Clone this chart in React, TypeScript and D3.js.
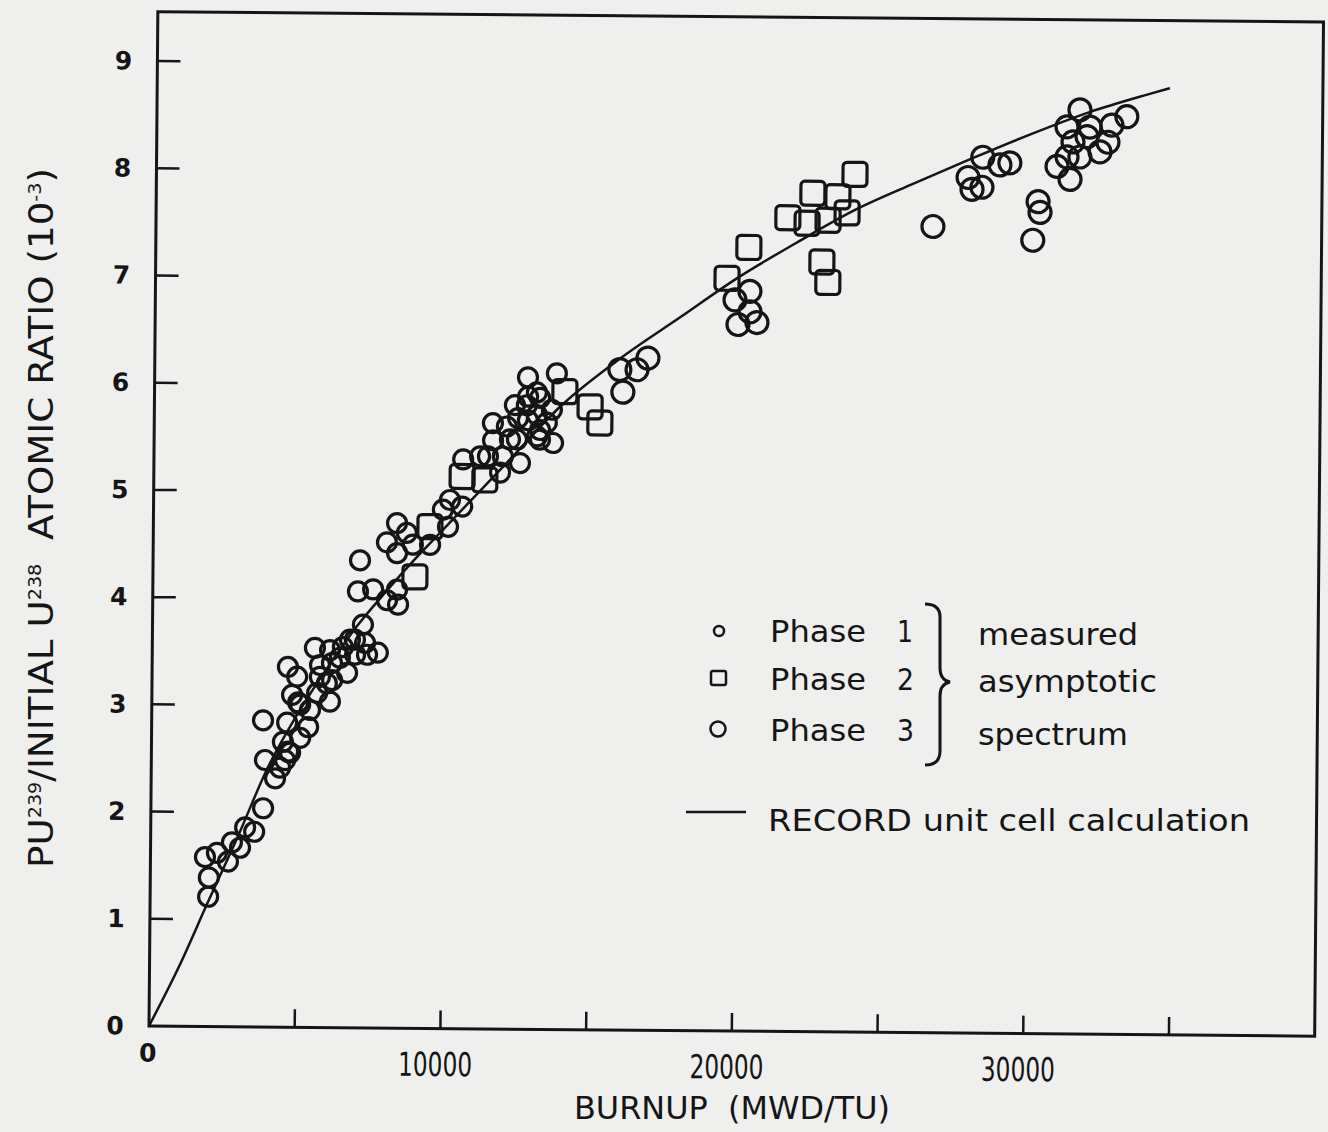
import * as d3 from "d3";
import React from "react";

// Phase 1 (small circles) - burnup in MWD/TU, ratio in 1e-3
const phase1Burnup = [
  1990, 2010, 1870, 2280, 2660, 2790, 3070, 3240, 3550, 3850, 3900, 4250, 4420, 4590, 4690, 4510,
  3820, 4760, 4650, 5370, 5020, 4810, 5670, 6110, 4660, 4980, 5580, 5760, 5760, 6000, 6100, 6440,
  6690, 6540, 6950, 6960, 7300, 7370, 7740, 7220, 7040, 7560, 8040, 8380, 8420, 7100, 8370, 8020,
  8910, 8360, 8700, 9500, 10110, 6780, 6170, 6180, 5090, 5430, 5100,
  9930, 10590, 10170, 10610, 11460, 11970, 11880, 12560, 11630, 11620, 12210, 12100, 12450, 12480,
  12370, 12780, 12810, 13240, 13240, 13690, 13470, 13130, 13640, 13120, 12820, 13800, 13230, 12820,
  13140, 11190
];
const phase1Ratio = [
  1.21, 1.39, 1.58, 1.62, 1.54, 1.72, 1.67, 1.86, 1.82, 2.04, 2.49, 2.32, 2.42, 2.49, 2.57, 2.66,
  2.86, 2.56, 2.84, 2.80, 3.03, 3.10, 3.12, 3.04, 3.36, 3.27, 3.54, 3.38, 3.27, 3.21, 3.52, 3.45,
  3.31, 3.55, 3.62, 3.48, 3.59, 3.48, 3.50, 3.76, 4.07, 4.09, 3.99, 4.09, 3.95, 4.36, 4.43, 4.53,
  4.51, 4.71, 4.62, 4.51, 4.68, 3.62, 3.40, 3.24, 3.01, 2.96, 2.70,
  4.84, 4.87, 4.93, 5.31, 5.34, 5.34, 5.19, 5.28, 5.49, 5.65, 5.50, 5.62, 5.50, 5.70,
  5.82, 5.82, 6.08, 5.59, 5.50, 5.47, 5.66, 5.73, 5.78, 5.94, 5.90, 6.12, 5.89, 5.68,
  5.53, 5.34
];

// Phase 2 (squares)
const phase2Burnup = [
  8990, 9490, 10580, 11360, 14080, 14950, 15290, 19610, 20350, 21680, 22530, 22340, 23060, 23390,
  23970, 23710, 22860, 23070
];
const phase2Ratio = [
  4.21, 4.68, 5.15, 5.12, 5.95, 5.81, 5.66, 7.02, 7.31, 7.59, 7.82, 7.54, 7.57, 7.79,
  8.00, 7.64, 7.18, 6.99
];

// Phase 3 (large circles)
const phase3Burnup = [
  16070, 15960, 16550, 16920, 19890, 20400, 20410, 20000, 20650, 26660, 27850, 27990, 28330, 28350,
  28940, 29280, 30260, 30330, 30090, 31230, 31670, 31240, 31440, 30900, 31350, 31680, 32020, 32370,
  32640, 32770, 33280, 31920
];
const phase3Ratio = [
  5.95, 6.16, 6.16, 6.27, 6.82, 6.90, 6.71, 6.59, 6.61, 7.52, 7.98, 7.87, 7.89, 8.17,
  8.10, 8.12, 7.76, 7.66, 7.40, 8.46, 8.62, 8.18, 8.32, 8.09, 7.97, 8.18, 8.46, 8.23,
  8.32, 8.48, 8.56, 8.37
];

// RECORD unit cell calculation
const calcBurnup = [
  0, 1000, 2000, 3000, 4000, 5000, 6000, 7000, 8000, 9000, 10000, 12000, 14000, 16000, 18000,
  20000, 22000, 24000, 26000, 28000, 30000, 32000, 34000, 34750
];
const calcRatio = [
  0, 0.55, 1.17, 1.78, 2.42, 2.92, 3.35, 3.74, 4.07, 4.38, 4.67, 5.25, 5.83, 6.27, 6.65,
  7.03, 7.36, 7.67, 7.92, 8.16, 8.39, 8.60, 8.77, 8.83
];

const yTicks = [0, 1, 2, 3, 4, 5, 6, 7, 8, 9];
const xTickMarks = [5000, 10000, 15000, 20000, 25000, 30000, 35000];
const xTickLabels = [10000, 20000, 30000];

const W = 1328;
const H = 1132;
const ink = "#151515";
const paper = "#efefed";
const narrow = "'Liberation Sans Narrow', 'DejaVu Sans Condensed', sans-serif";
const round = "'DejaVu Sans', sans-serif";

const App = () => {
  const ref = React.useRef(null);

  React.useEffect(() => {
    const svg = d3.select(ref.current);
    svg.selectAll("*").remove();

    svg.append("rect").attr("width", W).attr("height", H).attr("fill", paper);

    const x = d3.scaleLinear().domain([0, 40000]).range([149, 1314.7]);
    const y = d3.scaleLinear().domain([0, 9]).range([1026, 61]);

    // the scan is tilted a little
    const g = svg.append("g").attr("transform", "rotate(0.5," + x(0) + "," + y(0) + ")");

    // Frame
    g.append("rect")
      .attr("x", x(0))
      .attr("y", y(9.46))
      .attr("width", x(40000) - x(0))
      .attr("height", y(0) - y(9.46))
      .attr("fill", "none")
      .attr("stroke", ink)
      .attr("stroke-width", 3);

    // y ticks
    g.selectAll(".ytick")
      .data(yTicks.filter(d => d > 0))
      .enter()
      .append("line")
      .attr("x1", x(0))
      .attr("x2", x(0) + 23)
      .attr("y1", d => y(d))
      .attr("y2", d => y(d))
      .attr("stroke", ink)
      .attr("stroke-width", 2.5);

    g.selectAll(".ylabel")
      .data(yTicks)
      .enter()
      .append("text")
      .attr("x", x(0) - 34)
      .attr("y", d => y(d))
      .attr("text-anchor", "middle")
      .attr("dominant-baseline", "central")
      .style("font-family", round)
      .style("font-weight", "bold")
      .style("font-size", "25px")
      .style("fill", ink)
      .text(d => d);

    // x ticks
    g.selectAll(".xtick")
      .data(xTickMarks)
      .enter()
      .append("line")
      .attr("x1", d => x(d))
      .attr("x2", d => x(d))
      .attr("y1", y(0))
      .attr("y2", y(0) - 18)
      .attr("stroke", ink)
      .attr("stroke-width", 2.5);

    g.selectAll(".xlabel")
      .data(xTickLabels)
      .enter()
      .append("text")
      .attr("x", d => x(d) - 5)
      .attr("y", y(0) + 36)
      .attr("text-anchor", "middle")
      .attr("dominant-baseline", "central")
      .attr("textLength", 74)
      .attr("lengthAdjust", "spacingAndGlyphs")
      .style("font-family", narrow)
      .style("font-size", "33px")
      .style("fill", ink)
      .text(d => d);

    g.append("text")
      .attr("x", x(0) - 1)
      .attr("y", y(0) + 27)
      .attr("text-anchor", "middle")
      .attr("dominant-baseline", "central")
      .style("font-family", round)
      .style("font-weight", "bold")
      .style("font-size", "25px")
      .style("fill", ink)
      .text("0");

    // Calculation curve
    const line = d3.line()
      .x(d => x(d[0]))
      .y(d => y(d[1]))
      .curve(d3.curveMonotoneX);
    g.append("path")
      .datum(calcBurnup.map((b, i) => [b, calcRatio[i]]))
      .attr("d", line)
      .attr("fill", "none")
      .attr("stroke", ink)
      .attr("stroke-width", 2.5);

    // Measured points
    g.selectAll(".p1")
      .data(phase1Burnup.map((b, i) => [b, phase1Ratio[i]]))
      .enter()
      .append("circle")
      .attr("cx", d => x(d[0]))
      .attr("cy", d => y(d[1]))
      .attr("r", 9.5)
      .attr("fill", "none")
      .attr("stroke", ink)
      .attr("stroke-width", 3.2);

    const side = 24;
    g.selectAll(".p2")
      .data(phase2Burnup.map((b, i) => [b, phase2Ratio[i]]))
      .enter()
      .append("rect")
      .attr("x", d => x(d[0]) - side / 2)
      .attr("y", d => y(d[1]) - side / 2)
      .attr("width", side)
      .attr("height", side)
      .attr("rx", 4)
      .attr("fill", "none")
      .attr("stroke", ink)
      .attr("stroke-width", 3.2);

    g.selectAll(".p3")
      .data(phase3Burnup.map((b, i) => [b, phase3Ratio[i]]))
      .enter()
      .append("circle")
      .attr("cx", d => x(d[0]))
      .attr("cy", d => y(d[1]))
      .attr("r", 11)
      .attr("fill", "none")
      .attr("stroke", ink)
      .attr("stroke-width", 3.2);

    // Axis titles
    svg.append("text")
      .attr("x", 732)
      .attr("y", 1119)
      .attr("text-anchor", "middle")
      .attr("textLength", 316)
      .attr("lengthAdjust", "spacingAndGlyphs")
      .style("font-family", narrow)
      .style("font-size", "32px")
      .style("fill", ink)
      .style("white-space", "pre")
      .text("BURNUP  (MWD/TU)");

    const yt = svg.append("text")
      .attr("transform", "translate(53,518) rotate(-90)")
      .attr("text-anchor", "middle")
      .attr("textLength", 700)
      .attr("lengthAdjust", "spacingAndGlyphs")
      .style("font-family", narrow)
      .style("font-size", "33px")
      .style("fill", ink)
      .style("white-space", "pre");
    const sup = (t) => yt.append("tspan").attr("dy", -12).style("font-size", "17px").text(t);
    const base = (t) => yt.append("tspan").attr("dy", 12).text(t);
    yt.append("tspan").text("PU");
    sup("239");
    base("/INITIAL U");
    sup("238");
    base("  ATOMIC RATIO (10");
    sup("-3");
    base(")");

    // Legend
    const legend = svg.append("g");
    const legendText = (tx, ty, t, len) => legend.append("text")
      .attr("x", tx)
      .attr("y", ty)
      .attr("textLength", len)
      .attr("lengthAdjust", "spacingAndGlyphs")
      .style("font-family", round)
      .style("font-size", "30px")
      .style("fill", ink)
      .text(t);

    legend.append("circle").attr("cx", 719).attr("cy", 631).attr("r", 5)
      .attr("fill", "none").attr("stroke", ink).attr("stroke-width", 2.5);
    legend.append("rect").attr("x", 711).attr("y", 671).attr("width", 15).attr("height", 14).attr("rx", 2)
      .attr("fill", "none").attr("stroke", ink).attr("stroke-width", 2.5);
    legend.append("circle").attr("cx", 718).attr("cy", 729).attr("r", 7.5)
      .attr("fill", "none").attr("stroke", ink).attr("stroke-width", 2.5);

    legendText(770, 642, "Phase", 96);
    legendText(770, 690, "Phase", 96);
    legendText(770, 741, "Phase", 96);
    legendText(897, 642, "1", 16);
    legendText(897, 690, "2", 17);
    legendText(897, 741, "3", 17);

    legend.append("path")
      .attr("d", "M925,604 Q940,604 940,617 L940,668 Q940,680 950,682 Q940,684 940,696 L940,751 Q940,765 925,765")
      .attr("fill", "none")
      .attr("stroke", ink)
      .attr("stroke-width", 3);

    legendText(978, 645, "measured", 160);
    legendText(978, 692, "asymptotic", 179);
    legendText(978, 745, "spectrum", 150);

    legend.append("line")
      .attr("x1", 686).attr("x2", 746).attr("y1", 812).attr("y2", 812)
      .attr("stroke", ink).attr("stroke-width", 2.5);
    legendText(768, 831, "RECORD unit cell calculation", 482);
  }, []);

  return (
    <svg
      ref={ref}
      width={W}
      height={H}
      style={{ position: "absolute", left: 0, top: 0, display: "block" }}
    />
  );
};

export default App;
